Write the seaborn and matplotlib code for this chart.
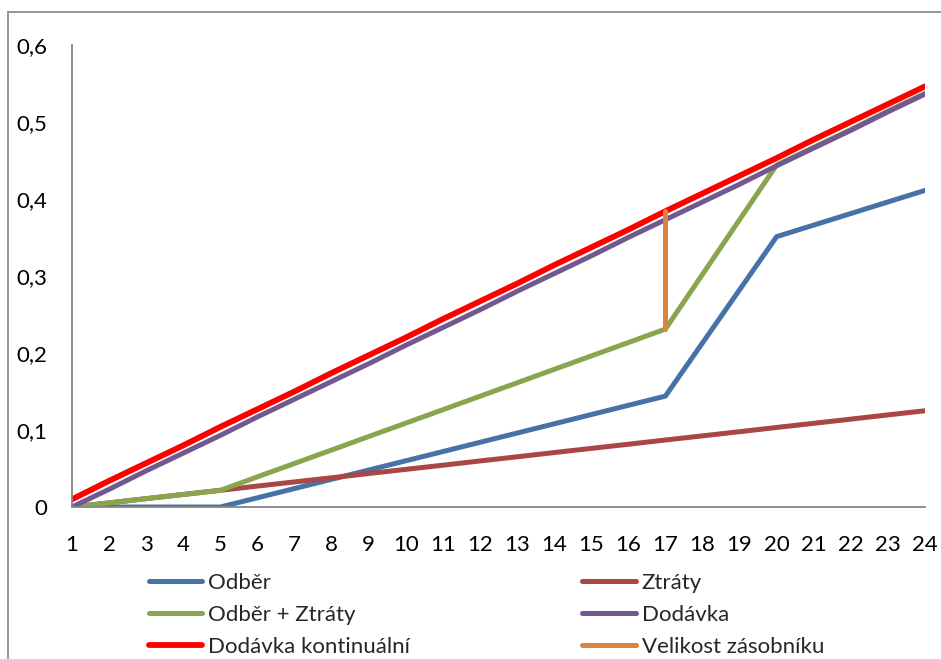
import numpy as np
import pandas as pd
import matplotlib
matplotlib.use("Agg")
import matplotlib.pyplot as plt
from matplotlib.patches import Rectangle
import seaborn as sns

# hodiny 1..24
hodiny = list(range(1, 25))

odber = [0, 0, 0, 0, 0, 0.012, 0.024, 0.036, 0.048, 0.060, 0.072, 0.084,
         0.096, 0.108, 0.120, 0.132, 0.144, 0.213, 0.282, 0.351, 0.366, 0.381,
         0.396, 0.411]
ztraty = [0, 0.0054, 0.0109, 0.0163, 0.0217, 0.0272, 0.0326, 0.038, 0.0435,
          0.0489, 0.0543, 0.0598, 0.0652, 0.0707, 0.0761, 0.0815, 0.087,
          0.0924, 0.0978, 0.1033, 0.1087, 0.1141, 0.1196, 0.125]
odber_ztraty = [0, 0.0054, 0.0109, 0.0163, 0.0217, 0.0392, 0.0566, 0.074,
                0.0915, 0.1089, 0.1263, 0.1438, 0.1612, 0.1787, 0.1961,
                0.2135, 0.231, 0.302, 0.373, 0.444, 0.467, 0.490,
                0.514, 0.537]
dodavka = [0, 0.023, 0.047, 0.070, 0.093, 0.117, 0.140, 0.163, 0.186, 0.210,
           0.233, 0.256, 0.280, 0.303, 0.326, 0.350, 0.373, 0.396, 0.419,
           0.443, 0.466, 0.489, 0.513, 0.536]
dodavka_kont = [0.010, 0.034, 0.057, 0.080, 0.104, 0.127, 0.150, 0.174, 0.197,
                0.220, 0.244, 0.267, 0.290, 0.314, 0.337, 0.360, 0.384, 0.407,
                0.430, 0.453, 0.477, 0.500, 0.523, 0.546]
zasobnik_x = [17, 17]
zasobnik_y = [0.231, 0.384]

sns.set_style("white")
plt.rcParams['font.family'] = ['Lato', 'DejaVu Sans']

fig = plt.figure(figsize=(9.41, 6.59), dpi=100)
ax = fig.add_axes([0.0765, 0.2306, 0.9065, 0.7014])

series = [
    ("Odběr", odber, "#4572A7", 3.6),
    ("Ztráty", ztraty, "#AA4643", 3.6),
    ("Odběr + Ztráty", odber_ztraty, "#89A54E", 3.6),
    ("Dodávka", dodavka, "#71588F", 3.6),
    ("Dodávka kontinuální", dodavka_kont, "#FF0000", 4.2),
]
handles = {}
for name, vals, col, lw in series:
    df = pd.DataFrame({"hodina": hodiny, "hodnota": vals})
    sns.lineplot(data=df, x="hodina", y="hodnota", ax=ax, color=col,
                 linewidth=lw, solid_capstyle="round", label=name, legend=False)
    handles[name] = ax.lines[-1]

dfz = pd.DataFrame({"x": zasobnik_x, "y": zasobnik_y})
sns.lineplot(data=dfz, x="x", y="y", ax=ax, color="#DB843D", linewidth=3.6,
             solid_capstyle="round", legend=False, estimator=None, sort=False)
handles["Velikost zásobníku"] = ax.lines[-1]

ax.set_xlim(1, 24)
ax.set_ylim(0, 0.6)
ax.set_xticks(hodiny)
ax.set_yticks(np.arange(0, 0.61, 0.1))
ax.set_yticklabels(["0", "0,1", "0,2", "0,3", "0,4", "0,5", "0,6"])
ax.set_xlabel("")
ax.set_ylabel("")
ax.tick_params(axis="both", length=0, labelsize=16, colors="black")
ax.tick_params(axis="y", pad=18)
ax.tick_params(axis="x", pad=20)
for s in ["top", "right"]:
    ax.spines[s].set_visible(False)
for s in ["left", "bottom"]:
    ax.spines[s].set_color("#868686")
    ax.spines[s].set_linewidth(1.3)

order = ["Odběr", "Odběr + Ztráty", "Dodávka kontinuální",
         "Ztráty", "Dodávka", "Velikost zásobníku"]
fig.legend([handles[k] for k in order], order, ncol=2, frameon=False,
           loc="upper left", bbox_to_anchor=(0.158, 0.131), fontsize=16,
           handlelength=2.4, handletextpad=0.27, columnspacing=7.75,
           labelspacing=0.55, borderpad=0, borderaxespad=0)

fig.patches.append(Rectangle((0.0085, -0.05), 1.2, 1.032, transform=fig.transFigure,
                             fill=False, edgecolor="#8c8c8c", linewidth=1.3))

fig.savefig("out.png", dpi=100, facecolor="white")
